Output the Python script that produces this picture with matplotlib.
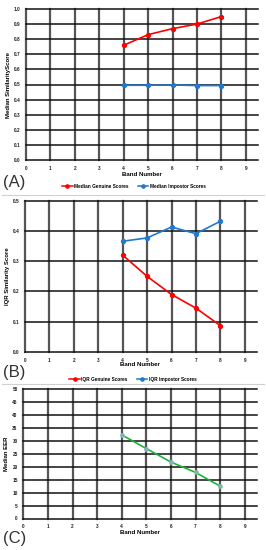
import matplotlib
matplotlib.use("Agg")
import matplotlib.pyplot as plt
from matplotlib.lines import Line2D

plt.rcParams["font.family"] = ["Liberation Sans", "DejaVu Sans"]

bands = [4, 5, 6, 7, 8]
median_genuine = [0.76, 0.83, 0.87, 0.90, 0.95]
median_impostor = [0.495, 0.495, 0.497, 0.493, 0.493]
iqr_genuine = [0.32, 0.25, 0.19, 0.145, 0.087]
iqr_impostor = [0.366, 0.377, 0.413, 0.391, 0.432]
median_eer = [32.3, 27.0, 21.8, 17.8, 12.5]

xticks = list(range(10))

W, H = 266, 550
fig = plt.figure(figsize=(W / 100, H / 100), dpi=100)
fig.patch.set_facecolor("white")

RED = "#ff0000"
BLUE = "#1f78d1"
GREEN = "#1db33a"

def px_axes(left, right, top, bottom):
    return fig.add_axes([left / W, 1 - bottom / H, (right - left) / W, (bottom - top) / H])

def style(ax, ymax, ystep, labels, ylabel):
    ax.set_xlim(0, 9.5)
    ax.set_ylim(0, ymax)
    ax.set_xticks(xticks)
    n = int(round(ymax / ystep))
    yt = [i * ystep for i in range(n + 1)]
    ax.set_yticks(yt)
    ax.set_yticklabels(labels)
    for s in ax.spines.values():
        s.set_visible(False)
    ax.tick_params(axis="both", length=0, labelsize=3.4, pad=4, colors="#222222")
    for lab in ax.get_xticklabels() + ax.get_yticklabels():
        lab.set_fontweight("bold")
    ax.grid(True, axis="y", color="#111111", lw=1.1)
    ax.grid(True, axis="x", color="#555555", lw=1.6)
    for gl in ax.get_xgridlines() + ax.get_ygridlines():
        gl.set_clip_on(False)
    ax.set_axisbelow(True)
    ax.set_ylabel(ylabel, fontsize=4.3, fontweight="bold", labelpad=2)

# Panel A
axA = px_axes(26, 258, 9, 160)
style(axA, 1.0, 0.1, ["{:.1f}".format(i / 10) for i in range(11)], "Median SimilarityScore")
axA.plot(bands, median_genuine, color=RED, lw=1.2, marker="o", ms=2.8, zorder=3)
axA.plot(bands, median_impostor, color=BLUE, lw=1.2, marker="o", ms=2.8, zorder=3)
fig.text(142 / W, 1 - 174 / H, "Band Number", ha="center", va="center", fontsize=4.4, fontweight="bold")
fig.text(3 / W, 1 - 182 / H, "(A)", ha="left", va="center", fontsize=12, color="#333333")
hA = [Line2D([], [], color=RED, marker="o", ms=2.3, lw=1.1),
      Line2D([], [], color=BLUE, marker="o", ms=2.3, lw=1.1)]
fig.legend(hA, ["Median Genuine Scores", "Median Impostor Scores"], loc="center",
           bbox_to_anchor=(134 / W, 1 - 186.5 / H), ncol=2, frameon=False,
           prop={"size": 3.4, "weight": "bold"}, handlelength=2.2, handletextpad=0.3, columnspacing=2.0)
fig.add_artist(Line2D([2 / W, 264 / W], [1 - 194.5 / H, 1 - 194.5 / H], color="#d0d0d0", lw=0.8))

# Panel B
axB = px_axes(25, 257, 200.7, 352)
style(axB, 0.5, 0.1, ["{:.1f}".format(i / 10) for i in range(6)], "IQR Similarity Score")
axB.plot(bands, iqr_genuine, color=RED, lw=1.2, marker="o", ms=2.8, zorder=3)
axB.plot(bands, iqr_impostor, color=BLUE, lw=1.2, marker="o", ms=2.8, zorder=3)
fig.text(140 / W, 1 - 365 / H, "Band Number", ha="center", va="center", fontsize=4.4, fontweight="bold")
fig.text(3 / W, 1 - 372 / H, "(B)", ha="left", va="center", fontsize=12, color="#333333")
hB = [Line2D([], [], color=RED, marker="o", ms=2.3, lw=1.1),
      Line2D([], [], color=BLUE, marker="o", ms=2.3, lw=1.1)]
fig.legend(hB, ["IQR Genuine Scores", "IQR Impostor Scores"], loc="center",
           bbox_to_anchor=(133 / W, 1 - 379 / H), ncol=2, frameon=False,
           prop={"size": 3.4, "weight": "bold"}, handlelength=2.2, handletextpad=0.3, columnspacing=2.0)
fig.add_artist(Line2D([2 / W, 264 / W], [1 - 384 / H, 1 - 384 / H], color="#d0d0d0", lw=0.8))

# Panel C
axC = px_axes(23.3, 257, 389, 518.5)
style(axC, 50, 5, [str(v) for v in range(0, 55, 5)], "Median EER")
axC.plot(bands, median_eer, color=GREEN, lw=1.2, marker="o", ms=2.8,
         markerfacecolor="#7aaedb", markeredgecolor="#8fbf8f", markeredgewidth=0.5, zorder=3)
fig.text(140 / W, 1 - 532 / H, "Band Number", ha="center", va="center", fontsize=4.4, fontweight="bold")
fig.text(3 / W, 1 - 538 / H, "(C)", ha="left", va="center", fontsize=12, color="#333333")

fig.savefig("out.png", dpi=100, facecolor="white")
